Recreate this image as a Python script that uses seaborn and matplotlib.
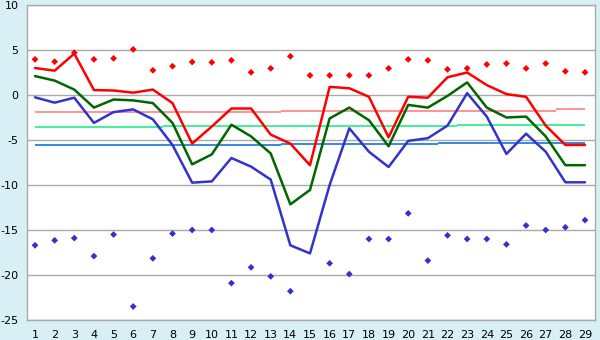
import matplotlib
matplotlib.use("Agg")
import matplotlib.pyplot as plt
import seaborn as sns
import pandas as pd
import numpy as np

days = list(range(1, 30))

red_line = [3.0, 2.7, 4.6, 0.55, 0.5, 0.26, 0.6, -0.9, -5.4, -3.5,
            -1.5, -1.5, -4.4, -5.4, -7.8, 0.9, 0.75, -0.2, -4.7, -0.2,
            -0.3, 1.97, 2.5, 1.1, 0.1, -0.2, -3.4, -5.55, -5.55]
green_line = [2.1, 1.6, 0.6, -1.4, -0.5, -0.6, -0.9, -3.1, -7.7, -6.6,
              -3.3, -4.6, -6.5, -12.15, -10.55, -2.6, -1.4, -2.8, -5.7, -1.1,
              -1.4, -0.1, 1.4, -1.4, -2.5, -2.4, -4.6, -7.8, -7.8]
blue_line = [-0.26, -0.85, -0.3, -3.1, -1.9, -1.6, -2.7, -5.55, -9.74, -9.6,
             -7.0, -7.96, -9.4, -16.7, -17.6, -10.0, -3.7, -6.3, -8.0, -5.1,
             -4.8, -3.4, 0.2, -2.4, -6.55, -4.3, -6.3, -9.7, -9.7]

red_points = [3.96, 3.7, 4.7, 3.96, 4.07, 5.07, 2.74, 3.2, 3.67, 3.63,
              3.85, 2.52, 2.96, 4.3, 2.18, 2.18, 2.18, 2.18, 2.96, 3.96,
              3.85, 2.85, 2.96, 3.4, 3.5, 2.96, 3.5, 2.63, 2.52]
blue_points = [-16.7, -16.15, -15.9, -17.9, -15.5, -23.5, -18.15, -15.4, -15.0, -15.0,
               -20.9, -19.15, -20.15, -21.8, np.nan, -18.7, -19.9, -16.0, -16.0, -13.15,
               -18.4, -15.6, -16.0, -16.0, -16.6, -14.5, -15.0, -14.7, -13.9]

# step averages: (start, end, value)
pink_avg = [(1, 13.5, -1.93), (13.5, 27.5, -1.75), (27.5, 29, -1.58)]
mint_avg = [(1, 7.5, -3.59), (7.5, 22.5, -3.44), (22.5, 29, -3.33)]
sky_avg = [(1, 13.5, -5.56), (13.5, 21.5, -5.41), (21.5, 29, -5.3)]

bg = "#d9eff6"
sns.set_style("white")
plt.rcParams["font.family"] = ["DejaVu Sans"]
plt.rcParams["axes.unicode_minus"] = False

fig = plt.figure(figsize=(6, 3.4), dpi=100, facecolor=bg)
ax = fig.add_axes([27 / 600, 1 - 320 / 340, 568 / 600, 315 / 340])
ax.set_facecolor("white")

for segs, col in [(pink_avg, "#ff8080"), (mint_avg, "#22ee88"), (sky_avg, "#1177dd")]:
    for x0, x1, v in segs:
        ax.hlines(v, x0, x1, color=col, lw=1.2, zorder=2)

df = pd.DataFrame({"day": days, "red": red_line, "green": green_line, "blue": blue_line,
                   "hi": red_points, "lo": blue_points})
for col, c in [("blue", "#3333cc"), ("green", "#006600"), ("red", "#ff0000")]:
    sns.lineplot(data=df, x="day", y=col, color=c, lw=1.8, ax=ax, zorder=3)
sns.scatterplot(data=df, x="day", y="hi", color="#ff0000", marker="D", s=12,
                edgecolor="none", ax=ax, zorder=4)
sns.scatterplot(data=df, x="day", y="lo", color="#3333cc", marker="D", s=12,
                edgecolor="none", ax=ax, zorder=4)

ax.set_xlim(1 - 8 / 19.64, 29 + 10 / 19.64)
ax.set_ylim(-25, 10)
ax.set_xticks(days)
ax.set_yticks(range(-25, 11, 5))
ax.yaxis.grid(True, color="#aaaaaa", lw=1)
ax.set_axisbelow(True)
ax.set_xlabel("")
ax.set_ylabel("")
for s in ax.spines.values():
    s.set_color("#aaaaaa")
    s.set_linewidth(1)
ax.tick_params(axis="both", labelsize=8, colors="#333333", length=4, width=1,
               labelcolor="black", pad=2)
ax.tick_params(axis="x", length=5)

fig.savefig("out.png", dpi=100, facecolor=bg)
